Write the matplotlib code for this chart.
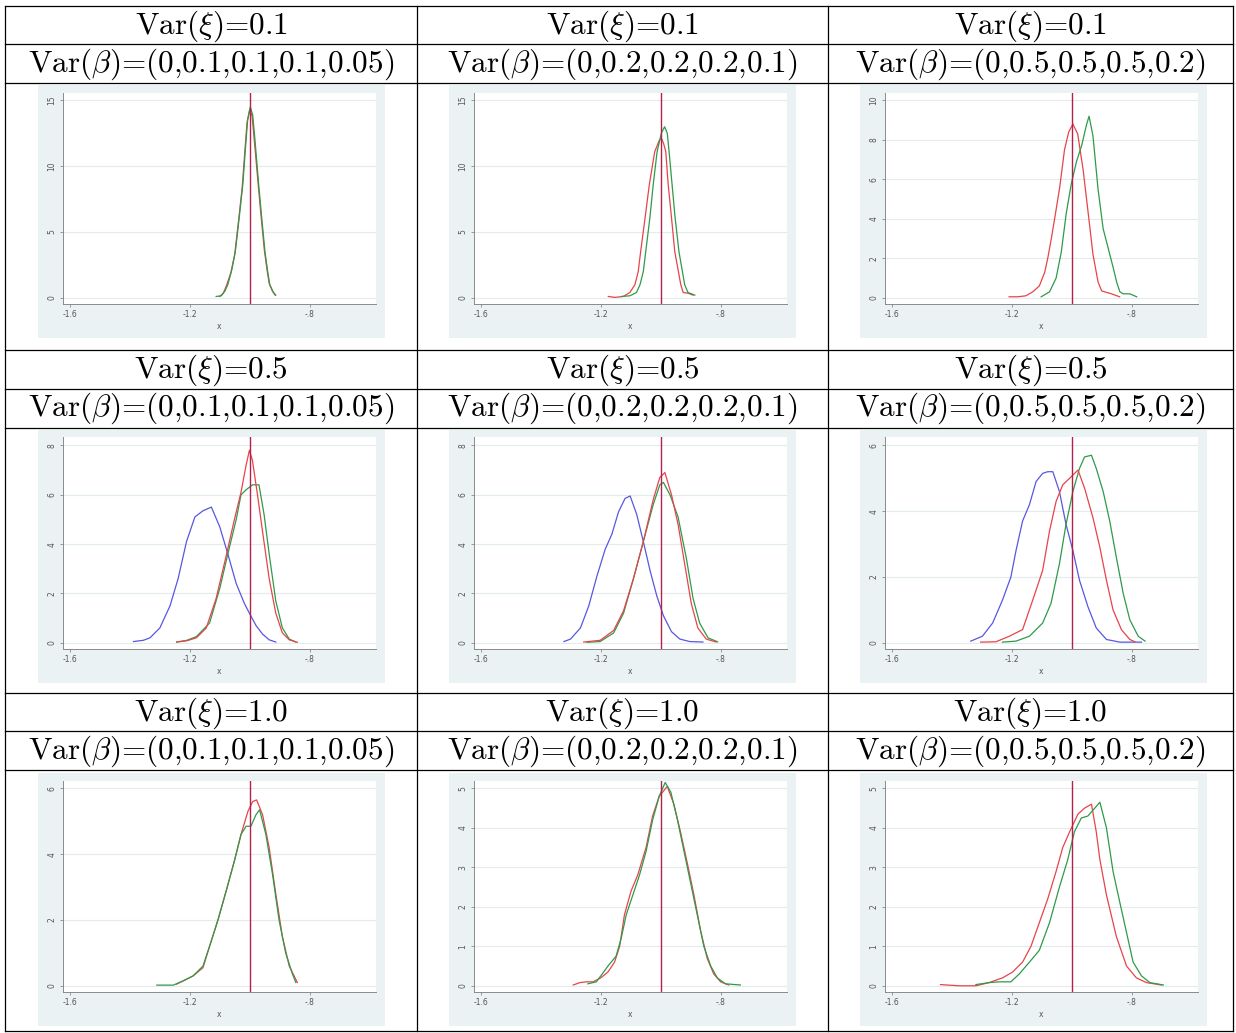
import matplotlib
matplotlib.use("Agg")
import matplotlib.pyplot as plt
from matplotlib.patches import Rectangle
from matplotlib.lines import Line2D

# header texts
xi_labels = ["0.1", "0.5", "1.0"]
beta_labels = ["(0,0.1,0.1,0.1,0.05)", "(0,0.2,0.2,0.2,0.1)", "(0,0.5,0.5,0.5,0.2)"]

x_ticks = [-1.6, -1.2, -0.8]
x_ticklabels = ["-1.6", "-1.2", "-.8"]
true_value = -1.0

# y ticks per panel (row, col)
yticks_r1c1 = [0, 5, 10, 15]
yticks_r1c2 = [0, 5, 10, 15]
yticks_r1c3 = [0, 2, 4, 6, 8, 10]
yticks_r2c1 = [0, 2, 4, 6, 8]
yticks_r2c2 = [0, 2, 4, 6, 8]
yticks_r2c3 = [0, 2, 4, 6]
yticks_r3c1 = [0, 2, 4, 6]
yticks_r3c2 = [0, 1, 2, 3, 4, 5]
yticks_r3c3 = [0, 1, 2, 3, 4, 5]

# density curves
r1c1_green_x = [-1.112, -1.095, -1.083, -1.073, -1.060, -1.048, -1.035, -1.023, -1.015, -1.007,
                -0.998, -0.990, -0.982, -0.970, -0.960, -0.949, -0.940, -0.933, -0.922, -0.913]
r1c1_green_y = [0.1, 0.15, 0.5, 1.0, 2.1, 3.5, 6.1, 8.6, 11.1, 13.5,
                14.5, 13.9, 11.9, 8.6, 6.1, 3.5, 2.0, 1.0, 0.45, 0.2]
r1c1_red_x = [-1.100, -1.088, -1.078, -1.063, -1.050, -1.037, -1.025, -1.017, -1.009, -1.000,
              -0.992, -0.984, -0.972, -0.962, -0.951, -0.942, -0.935, -0.924, -0.915]
r1c1_red_y = [0.1, 0.35, 0.9, 1.9, 3.3, 5.9, 8.4, 10.9, 13.3, 14.3,
              13.8, 11.8, 8.7, 6.2, 3.6, 2.1, 1.1, 0.5, 0.2]

r1c2_green_x = [-1.131, -1.103, -1.081, -1.069, -1.058, -1.050, -1.036, -1.025, -1.012, -0.998,
                -0.987, -0.978, -0.972, -0.962, -0.952, -0.939, -0.920, -0.909, -0.897, -0.886]
r1c2_green_y = [0.1, 0.15, 0.4, 1.0, 2.0, 3.5, 6.1, 8.6, 11.1, 12.5,
                13.0, 12.5, 11.1, 8.6, 6.1, 3.5, 1.0, 0.4, 0.3, 0.2]
r1c2_red_x = [-1.175, -1.153, -1.125, -1.103, -1.086, -1.075, -1.067, -1.052, -1.038, -1.020,
              -1.004, -0.997, -0.990, -0.983, -0.975, -0.964, -0.953, -0.933, -0.925, -0.909, -0.892]
r1c2_red_y = [0.1, 0.03, 0.1, 0.4, 1.0, 2.0, 3.5, 6.1, 8.6, 11.1,
              12.0, 12.1, 11.7, 11.1, 8.6, 6.1, 3.5, 1.0, 0.4, 0.35, 0.2]

r1c3_red_x = [-1.209, -1.180, -1.153, -1.130, -1.108, -1.090, -1.080, -1.068, -1.057, -1.040, -1.024,
              -1.010, -0.996, -0.980, -0.962, -0.945, -0.929, -0.912, -0.900, -0.890, -0.867, -0.840]
r1c3_red_y = [0.05, 0.05, 0.1, 0.3, 0.6, 1.3, 2.0, 3.0, 4.0, 5.6, 7.5,
              8.4, 8.8, 8.3, 6.5, 4.3, 2.2, 0.8, 0.35, 0.3, 0.2, 0.05]
r1c3_green_x = [-1.102, -1.074, -1.052, -1.035, -1.018, -1.001, -0.984, -0.967, -0.950, -0.942,
                -0.929, -0.912, -0.895, -0.878, -0.861, -0.850, -0.839, -0.828, -0.806, -0.783]
r1c3_green_y = [0.05, 0.3, 1.0, 2.3, 4.3, 5.8, 6.9, 7.7, 8.8, 9.2,
                8.2, 5.5, 3.5, 2.5, 1.5, 0.8, 0.3, 0.2, 0.2, 0.05]

r2c1_blue_x = [-1.388, -1.355, -1.333, -1.300, -1.266, -1.239, -1.211, -1.183, -1.156, -1.128,
               -1.100, -1.073, -1.045, -1.018, -1.001, -0.979, -0.957, -0.935, -0.913]
r2c1_blue_y = [0.05, 0.1, 0.2, 0.6, 1.5, 2.6, 4.1, 5.1, 5.35, 5.5,
               4.7, 3.6, 2.4, 1.6, 1.2, 0.7, 0.35, 0.12, 0.03]
r2c1_red_x = [-1.244, -1.210, -1.178, -1.145, -1.112, -1.079, -1.051, -1.029, -1.012, -1.001,
              -0.991, -0.974, -0.957, -0.935, -0.913, -0.891, -0.868, -0.841]
r2c1_red_y = [0.03, 0.08, 0.2, 0.6, 1.8, 3.5, 5.0, 6.1, 7.2, 7.8,
              7.4, 6.0, 4.5, 2.6, 1.2, 0.4, 0.12, 0.02]
r2c1_green_x = [-1.244, -1.210, -1.178, -1.134, -1.100, -1.073, -1.045, -1.029, -1.012, -0.991,
                -0.969, -0.952, -0.935, -0.913, -0.891, -0.868, -0.846]
r2c1_green_y = [0.03, 0.1, 0.25, 0.8, 2.2, 3.6, 5.0, 6.0, 6.2, 6.4,
                6.4, 5.2, 3.6, 1.7, 0.6, 0.15, 0.03]

r2c2_blue_x = [-1.323, -1.301, -1.268, -1.240, -1.213, -1.185, -1.163, -1.141, -1.119, -1.102,
               -1.080, -1.058, -1.035, -1.013, -0.991, -0.964, -0.936, -0.903, -0.859]
r2c2_blue_y = [0.05, 0.15, 0.6, 1.5, 2.7, 3.8, 4.4, 5.3, 5.85, 5.95,
               5.2, 4.1, 2.9, 1.9, 1.1, 0.45, 0.15, 0.05, 0.03]
r2c2_red_x = [-1.257, -1.202, -1.157, -1.124, -1.091, -1.058, -1.025, -1.003, -0.986, -0.964,
              -0.942, -0.920, -0.898, -0.876, -0.848, -0.815]
r2c2_red_y = [0.03, 0.1, 0.5, 1.3, 2.6, 4.1, 5.8, 6.7, 6.9, 6.0,
              4.8, 3.2, 1.6, 0.6, 0.15, 0.03]
r2c2_green_x = [-1.246, -1.202, -1.157, -1.124, -1.091, -1.058, -1.025, -1.003, -0.991, -0.969,
                -0.942, -0.914, -0.892, -0.870, -0.842, -0.810]
r2c2_green_y = [0.02, 0.05, 0.4, 1.2, 2.6, 4.1, 5.6, 6.4, 6.5, 6.0,
                5.1, 3.4, 1.8, 0.8, 0.2, 0.04]

r2c3_blue_x = [-1.337, -1.298, -1.264, -1.231, -1.203, -1.186, -1.164, -1.141, -1.119, -1.097, -1.080,
               -1.063, -1.041, -1.019, -0.996, -0.974, -0.946, -0.918, -0.884, -0.839, -0.767]
r2c3_blue_y = [0.05, 0.2, 0.6, 1.3, 2.0, 2.8, 3.7, 4.2, 4.9, 5.15, 5.2,
               5.2, 4.6, 3.6, 2.8, 1.9, 1.1, 0.45, 0.1, 0.02, 0.02]
r2c3_red_x = [-1.304, -1.253, -1.208, -1.164, -1.130, -1.097, -1.074, -1.052, -1.030, -1.007,
              -0.979, -0.957, -0.929, -0.906, -0.884, -0.862, -0.834, -0.806, -0.789]
r2c3_red_y = [0.02, 0.03, 0.2, 0.4, 1.3, 2.2, 3.4, 4.3, 4.8, 5.0,
              5.25, 4.7, 3.8, 2.9, 1.9, 1.0, 0.4, 0.1, 0.03]
r2c3_green_x = [-1.231, -1.186, -1.141, -1.097, -1.069, -1.041, -1.019, -0.996, -0.974, -0.957,
                -0.934, -0.918, -0.895, -0.873, -0.851, -0.828, -0.806, -0.778, -0.755]
r2c3_green_y = [0.02, 0.05, 0.2, 0.6, 1.2, 2.4, 3.6, 4.6, 5.3, 5.65,
                5.7, 5.3, 4.6, 3.7, 2.6, 1.5, 0.7, 0.2, 0.05]

r3c1_green_x = [-1.310, -1.255, -1.222, -1.189, -1.156, -1.134, -1.106, -1.078, -1.051, -1.029,
                -1.012, -0.996, -0.979, -0.967, -0.946, -0.924, -0.902, -0.880, -0.857, -0.846]
r3c1_green_y = [0.02, 0.02, 0.15, 0.3, 0.6, 1.2, 2.0, 2.9, 3.8, 4.6,
                4.85, 4.85, 5.2, 5.35, 4.6, 3.4, 2.0, 1.0, 0.35, 0.1]
r3c1_red_x = [-1.244, -1.211, -1.189, -1.156, -1.134, -1.106, -1.078, -1.051, -1.029, -1.006,
              -0.990, -0.977, -0.957, -0.935, -0.913, -0.891, -0.868, -0.841]
r3c1_red_y = [0.05, 0.2, 0.3, 0.55, 1.2, 2.0, 2.9, 3.8, 4.6, 5.3,
              5.6, 5.65, 5.2, 4.2, 2.8, 1.5, 0.6, 0.1]

r3c2_green_x = [-1.243, -1.215, -1.200, -1.176, -1.149, -1.132, -1.115, -1.093, -1.071, -1.049, -1.027, -1.005,
                -0.985, -0.966, -0.944, -0.922, -0.900, -0.878, -0.856, -0.833, -0.811, -0.784, -0.734]
r3c2_green_y = [0.05, 0.1, 0.25, 0.5, 0.75, 1.2, 1.8, 2.3, 2.8, 3.4, 4.2, 4.8,
                5.15, 4.9, 4.2, 3.4, 2.6, 1.8, 1.0, 0.5, 0.2, 0.05, 0.02]
r3c2_red_x = [-1.292, -1.270, -1.248, -1.226, -1.200, -1.176, -1.154, -1.137, -1.121, -1.099, -1.077, -1.049,
              -1.027, -1.005, -0.978, -0.956, -0.934, -0.911, -0.889, -0.867, -0.845, -0.823, -0.800, -0.773]
r3c2_red_y = [0.02, 0.08, 0.1, 0.1, 0.2, 0.35, 0.6, 1.0, 1.8, 2.4, 2.8, 3.5,
              4.3, 4.8, 5.05, 4.6, 3.9, 3.1, 2.3, 1.4, 0.7, 0.3, 0.1, 0.02]

r3c3_red_x = [-1.438, -1.376, -1.320, -1.276, -1.231, -1.197, -1.164, -1.136, -1.108, -1.080, -1.052, -1.030,
              -1.007, -0.979, -0.957, -0.934, -0.918, -0.906, -0.884, -0.851, -0.817, -0.784, -0.750, -0.700]
r3c3_red_y = [0.03, 0.0, 0.0, 0.08, 0.2, 0.35, 0.6, 1.0, 1.6, 2.2, 2.9, 3.5,
              3.9, 4.35, 4.5, 4.6, 3.9, 3.2, 2.3, 1.25, 0.5, 0.2, 0.08, 0.02]
r3c3_green_x = [-1.320, -1.276, -1.242, -1.203, -1.175, -1.141, -1.108, -1.074, -1.041, -1.013, -0.991, -0.968,
                -0.946, -0.923, -0.906, -0.884, -0.862, -0.839, -0.817, -0.795, -0.767, -0.739, -0.694]
r3c3_green_y = [0.03, 0.08, 0.1, 0.1, 0.3, 0.6, 0.9, 1.6, 2.5, 3.2, 3.9, 4.25,
                4.3, 4.5, 4.65, 4.0, 2.9, 2.1, 1.35, 0.6, 0.25, 0.08, 0.02]

RED = "#e8434a"
GREEN = "#2e9a4a"
BLUE = "#5757e0"
VLINE = "#b3204a"
STATA_BG = "#eaf2f3"
GRID = "#e3eced"
AXIS = "#8a8a8a"

W, H = 1236, 1033

plt.rcParams["mathtext.fontset"] = "cm"


def fx(x):
    return x / W


def fy(y):
    return 1 - y / H


def draw_panel(fig, left, top, yticks, curves):
    # stata graph region
    img_w, img_h = 347, 253
    fig.add_artist(Rectangle((fx(left), fy(top + img_h)), img_w / W, img_h / H,
                             transform=fig.transFigure, facecolor=STATA_BG,
                             edgecolor="none", zorder=0))
    ax_l, ax_t, ax_w, ax_h = left + 24.5, top + 7.5, 313, 211
    ax = fig.add_axes([fx(ax_l), fy(ax_t + ax_h), ax_w / W, ax_h / H])
    ax.set_facecolor("white")
    top_tick = yticks[-1]
    ax.set_xlim(-1.625, -0.58)
    ax.set_ylim(-0.029 * top_tick, 1.04 * top_tick)
    for yt in yticks:
        ax.axhline(yt, color=GRID, lw=0.8, zorder=1)
    for cx, cy, col in curves:
        ax.plot(cx, cy, color=col, lw=0.9, zorder=3)
    ax.axvline(true_value, color=VLINE, lw=1.0, zorder=4)

    ax.set_xticks(x_ticks)
    ax.set_xticklabels(x_ticklabels)
    ax.set_yticks(yticks)
    ax.set_yticklabels([str(t) for t in yticks], rotation=90, va="center")
    ax.tick_params(axis="both", length=2.5, width=0.6, color=AXIS,
                   labelsize=5.5, labelcolor="#555555", pad=2)
    ax.set_xlabel("x", fontsize=5.5, color="#555555", labelpad=2)
    for side in ["top", "right"]:
        ax.spines[side].set_visible(False)
    for side in ["left", "bottom"]:
        ax.spines[side].set_color(AXIS)
        ax.spines[side].set_linewidth(0.7)
    return ax


def main():
    fig = plt.figure(figsize=(W / 100, H / 100), dpi=100)

    # table grid
    col_edges = [5, 417, 828, 1233]
    row_lines = [6, 44, 83, 350, 389, 428, 693, 731, 770, 1031]
    for y in row_lines:
        fig.add_artist(Line2D([fx(col_edges[0]), fx(col_edges[-1])], [fy(y), fy(y)],
                              transform=fig.transFigure, color="black", lw=0.9))
    for x in col_edges:
        fig.add_artist(Line2D([fx(x), fx(x)], [fy(row_lines[0]), fy(row_lines[-1])],
                              transform=fig.transFigure, color="black", lw=0.9))

    # headers
    row_tops = [6, 350, 693]
    for r in range(3):
        for c in range(3):
            cx = (col_edges[c] + col_edges[c + 1]) / 2
            y0 = row_tops[r]
            fig.text(fx(cx), fy(y0 + 20), r"Var($\xi$)=" + xi_labels[r],
                     family="cmr10", fontsize=22.5, ha="center", va="center")
            fig.text(fx(cx), fy(y0 + 58), r"Var($\beta$)=" + beta_labels[c],
                     family="cmr10", fontsize=22.5, ha="center", va="center")

    img_lefts = [38, 449, 860]
    img_tops = [85, 430, 773]
    panels = [
        [(yticks_r1c1, [(r1c1_red_x, r1c1_red_y, RED), (r1c1_green_x, r1c1_green_y, GREEN)]),
         (yticks_r1c2, [(r1c2_red_x, r1c2_red_y, RED), (r1c2_green_x, r1c2_green_y, GREEN)]),
         (yticks_r1c3, [(r1c3_red_x, r1c3_red_y, RED), (r1c3_green_x, r1c3_green_y, GREEN)])],
        [(yticks_r2c1, [(r2c1_blue_x, r2c1_blue_y, BLUE), (r2c1_green_x, r2c1_green_y, GREEN),
                        (r2c1_red_x, r2c1_red_y, RED)]),
         (yticks_r2c2, [(r2c2_blue_x, r2c2_blue_y, BLUE), (r2c2_green_x, r2c2_green_y, GREEN),
                        (r2c2_red_x, r2c2_red_y, RED)]),
         (yticks_r2c3, [(r2c3_blue_x, r2c3_blue_y, BLUE), (r2c3_green_x, r2c3_green_y, GREEN),
                        (r2c3_red_x, r2c3_red_y, RED)])],
        [(yticks_r3c1, [(r3c1_red_x, r3c1_red_y, RED), (r3c1_green_x, r3c1_green_y, GREEN)]),
         (yticks_r3c2, [(r3c2_red_x, r3c2_red_y, RED), (r3c2_green_x, r3c2_green_y, GREEN)]),
         (yticks_r3c3, [(r3c3_red_x, r3c3_red_y, RED), (r3c3_green_x, r3c3_green_y, GREEN)])],
    ]
    for r in range(3):
        for c in range(3):
            yt, curves = panels[r][c]
            draw_panel(fig, img_lefts[c], img_tops[r], yt, curves)

    fig.savefig("out.png", dpi=100)


if __name__ == "__main__":
    main()
